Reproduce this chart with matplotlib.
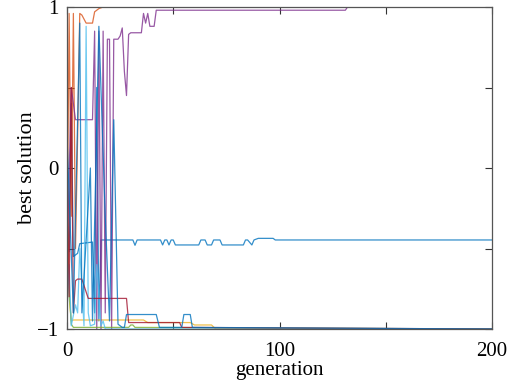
import matplotlib
matplotlib.use("Agg")
import matplotlib.pyplot as plt
from matplotlib.ticker import FixedLocator, FixedFormatter

plt.rcParams['font.family'] = ['Liberation Serif', 'DejaVu Serif']

# Breakpoints (generation, best solution)
blue1_g = [0, 1, 2, 3, 5, 6, 12, 13, 14, 15, 16, 31, 32, 33, 44, 45, 46, 47, 48, 49, 50, 51, 62, 63, 65, 66, 68, 69, 72, 73, 83, 84, 85, 87, 88, 90, 97, 98, 200]
blue1_v = [-0.3, -0.52, 0.4, -0.55, -0.53, -0.47, -0.46, -0.9, 0.5, -0.95, -0.447, -0.447, -0.48, -0.447, -0.447, -0.478, -0.447, -0.447, -0.478, -0.447, -0.447, -0.478, -0.478, -0.447, -0.447, -0.478, -0.478, -0.447, -0.447, -0.478, -0.478, -0.447, -0.447, -0.478, -0.447, -0.437, -0.437, -0.447, -0.447]

orange_g = [0, 1, 2, 3, 4, 5, 6, 7, 9, 12, 13, 15, 17, 200]
orange_v = [-0.6, 0.96, -0.3, 0.96, -0.5, 0.2, 0.96, 0.95, 0.9, 0.9, 0.97, 0.99, 1.0, 1.0]

yellow_g = [0, 1, 2, 3, 36, 38, 58, 60, 68, 70, 200]
yellow_v = [0.1, -0.8, -0.95, -0.944, -0.944, -0.96, -0.96, -0.975, -0.975, -1.0, -1.0]

purple_g = [0, 2, 4, 5, 12, 13, 14, 15, 16, 17, 18, 19, 20, 21, 22, 24, 25, 26, 27, 28, 29, 30, 35, 36, 37, 38, 39, 41, 42, 131, 132, 200]
purple_v = [-0.6, 0.5, 0.3, 0.3, 0.3, 0.85, -1.0, 0.85, -1.0, 0.85, -0.9, 0.8, 0.8, -1.0, 0.8, 0.8, 0.82, 0.87, 0.6, 0.45, 0.83, 0.84, 0.84, 0.96, 0.9, 0.96, 0.88, 0.88, 0.98, 0.98, 1.0, 1.0]

green_g = [0, 1, 2, 3, 29, 30, 31, 32, 200]
green_v = [-0.55, -0.75, -0.97, -0.99, -0.99, -0.975, -0.975, -0.99, -1.0]

lblue_g = [0, 1, 2, 4, 5, 6, 8, 9, 10, 11, 13, 14, 16, 17, 18, 200]
lblue_v = [-0.9, -0.6, -0.98, -0.85, -0.9, -0.5, -0.98, 0.88, -0.9, -0.98, -0.97, -0.6, -0.98, -0.95, -1.0, -1.0]

red_g = [0, 1, 2, 3, 4, 5, 7, 10, 28, 29, 53, 54, 200]
red_v = [0.1, -0.8, 0.5, -0.9, -0.7, -0.69, -0.69, -0.81, -0.81, -0.96, -0.96, -0.99, -1.0]

blue2_g = [0, 3, 6, 7, 11, 12, 15, 18, 20, 22, 24, 26, 27, 28, 42, 43.5, 54, 55, 58, 59, 200]
blue2_v = [0.2, -0.9, 0.9, -0.9, 0.0, -0.95, 0.88, -0.3, -0.95, 0.3, -0.97, -0.99, -0.99, -0.91, -0.91, -0.99, -0.99, -0.91, -0.91, -0.99, -1.0]

colors = ['#0072BD', '#D95319', '#EDB120', '#7E2F8E', '#77AC30', '#4DBEEE', '#A2142F', '#0072BD']
series = [(blue1_g, blue1_v), (orange_g, orange_v), (yellow_g, yellow_v), (purple_g, purple_v),
          (green_g, green_v), (lblue_g, lblue_v), (red_g, red_v), (blue2_g, blue2_v)]

fig = plt.figure(figsize=(5.13, 3.82), dpi=100)
ax = fig.add_axes([67/513, 1 - 329/382, (492 - 67)/513, (329 - 7)/382])
for (g, v), c in zip(series, colors):
    ax.plot(g, v, color=c, lw=0.9, alpha=0.8)

ax.set_xlim(0, 200)
ax.set_ylim(-1, 1)
ax.xaxis.set_major_locator(FixedLocator([0, 50, 100, 150, 200]))
ax.xaxis.set_major_formatter(FixedFormatter(['0', '', '100', '', '200']))
ax.yaxis.set_major_locator(FixedLocator([-1, -0.5, 0, 0.5, 1]))
ax.yaxis.set_major_formatter(FixedFormatter(['\u22121', '', '0', '', '1']))
ax.tick_params(direction='in', length=5, width=0.8, color='#333333', labelsize=15,
               top=True, right=True, pad=6)
ax.tick_params(axis='x', pad=9)
for s in ax.spines.values():
    s.set_color('#555555')
    s.set_linewidth(0.9)
ax.set_xlabel('generation', fontsize=15, labelpad=0)
ax.set_ylabel('best solution', fontsize=16, labelpad=0)
fig.savefig('out.png', dpi=100)
